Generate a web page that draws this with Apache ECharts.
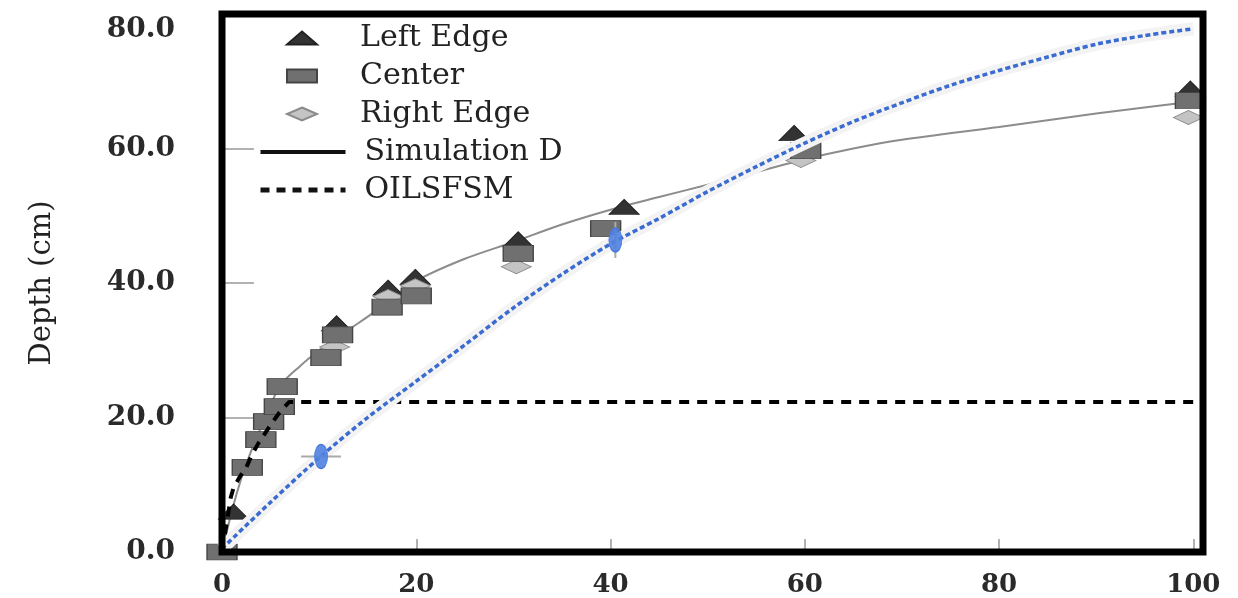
<!DOCTYPE html>
<html><head><meta charset="utf-8">
<script src="https://cdn.jsdelivr.net/npm/echarts@6/dist/echarts.min.js"></script>
<style>html,body{margin:0;padding:0;background:#fff}#c{width:1238px;height:598px}</style>
</head><body><div id="c"></div>
<script>
// ---- data ----
const xTicks = [0, 20, 40, 60, 80, 100];
const yTicks = [0, 20, 40, 60, 80];

const leftEdgeX = [1.2, 11.8, 17.1, 19.9, 30.5, 41.4, 58.9, 99.7];
const leftEdgeY = [6.0, 34.0, 39.3, 40.9, 46.5, 51.3, 62.3, 68.9];

const centerX = [0, 2.6, 4.0, 4.8, 5.9, 6.2, 10.7, 11.9, 17.0, 20.0, 30.5, 39.5, 60.1, 99.7];
const centerY = [0, 12.6, 16.7, 19.4, 21.6, 24.6, 28.9, 32.3, 36.4, 38.1, 44.4, 48.1, 59.7, 67.1];

const rightEdgeX = [11.6, 17.1, 19.9, 30.3, 59.6, 99.5];
const rightEdgeY = [30.5, 38.0, 39.6, 42.4, 58.2, 64.6];

const simX = [0, 1, 2, 3, 4, 5, 6, 8, 10, 13, 16, 20, 25, 30, 35, 40, 45, 50, 55, 60, 65, 70, 80, 90, 100];
const simY = [0, 6, 11, 15, 18.5, 21.8, 24.8, 27.6, 30, 33, 36, 40.3, 43.6, 46.1, 48.7, 50.9, 52.8, 54.6, 56.5, 58.4, 60, 61.3, 63.2, 65.2, 67];

const oilX = [0, 0.5, 0.9, 1.2, 1.8, 2.5, 3.1, 3.8, 4.5, 5.2, 5.9, 6.9, 100];
const oilY = [0, 4.4, 8.1, 9.6, 11.1, 12.6, 14.5, 16.3, 17.8, 19.3, 20.7, 22.3, 22.3];

const blueX = [0, 5, 10, 15, 20, 25, 30, 35, 40, 45, 50, 55, 60, 65, 70, 75, 80, 85, 90, 95, 100];
const blueY = [0.5, 7.4, 14, 20, 25.4, 30.8, 36.3, 41.3, 45.8, 49.6, 53.6, 57.3, 60.8, 64, 66.8, 69.4, 71.6, 73.6, 75.5, 76.8, 77.8];

const blueMarkX = [10.2, 40.5];
const blueMarkY = [14.2, 46.4];

const zip = (xs, ys) => xs.map((x, i) => [x, ys[i]]);
const FONT = 'DejaVu Serif';

const chart = echarts.init(document.getElementById('c'), null, {renderer: 'canvas'});
chart.setOption({
  animation: false,
  backgroundColor: '#fff',
  grid: {left: 222, right: 35, top: 14, bottom: 45, show: true, borderColor: '#000', borderWidth: 7, backgroundColor: 'transparent', z: 10},
  xAxis: {
    type: 'value', min: 0, max: 101, interval: 20,
    axisLine: {show: false},
    splitLine: {show: false},
    axisTick: {inside: true, length: 13, lineStyle: {color: '#999', width: 1.5}},
    axisLabel: {
      fontFamily: FONT, fontSize: 26, fontWeight: 'bold', color: '#2a2a2a', margin: 20,
      formatter: v => xTicks.includes(v) ? String(v) : ''
    }
  },
  yAxis: {
    type: 'value', min: 0, max: 80, interval: 20,
    name: 'Depth (cm)', nameLocation: 'middle', nameRotate: 90, nameGap: 165,
    nameTextStyle: {fontFamily: FONT, fontSize: 29, color: '#222'},
    axisLine: {show: false},
    splitLine: {show: false},
    axisTick: {inside: true, length: 32, lineStyle: {color: '#999', width: 1.5}},
    axisLabel: {
      fontFamily: FONT, fontSize: 28, fontWeight: 'bold', color: '#2a2a2a', margin: 47,
      formatter: v => yTicks.includes(v) ? (v === 80 ? '{top|' + v.toFixed(1) + '}' : v.toFixed(1)) : '',
      rich: {top: {fontFamily: FONT, fontSize: 28, fontWeight: 'bold', color: '#2a2a2a', padding: [32, 0, 0, 0]}}
    }
  },
  legend: [
    {
      orient: 'vertical', left: 281, top: 14, itemGap: 0, itemWidth: 30, itemHeight: 13,
      symbolKeepAspect: false,
      textStyle: {fontFamily: FONT, fontSize: 30, color: '#222', lineHeight: 38, padding: [0, 0, 0, 38]},
      data: [
        {name: 'Left Edge', icon: 'triangle'},
        {name: 'Center', icon: 'rect'},
        {name: 'Right Edge', icon: 'diamond'}
      ]
    },
    {
      orient: 'vertical', left: 253, top: 128, itemGap: 0, itemWidth: 85, itemHeight: 16,
      textStyle: {fontFamily: FONT, fontSize: 30, color: '#222', lineHeight: 38, padding: [0, 0, 0, 14]},
      data: [
        {name: 'Simulation D', itemStyle: {opacity: 0}, lineStyle: {color: '#111', width: 4, type: 'solid'}},
        {name: 'OILSFSM', itemStyle: {opacity: 0}, lineStyle: {color: '#111', width: 5, type: [9, 7]}}
      ]
    }
  ],
  series: [
    {
      name: 'Simulation D', type: 'line', data: zip(simX, simY), symbol: 'none', smooth: 0.3,
      lineStyle: {color: '#8c8c8c', width: 2}, itemStyle: {color: '#8c8c8c'}, z: 2
    },
    {
      name: 'OILSFSM', type: 'line', data: zip(oilX, oilY), symbol: 'none',
      lineStyle: {color: '#000', width: 4, type: [10, 8]}, itemStyle: {color: '#000'}, z: 6
    },
    {
      name: 'Left Edge', type: 'scatter', data: zip(leftEdgeX, leftEdgeY), symbol: 'triangle', symbolSize: [30, 15],
      itemStyle: {color: '#333', borderColor: '#222', borderWidth: 1, opacity: 1}, z: 3
    },
    {
      name: 'Right Edge', type: 'scatter', data: zip(rightEdgeX, rightEdgeY), symbol: 'diamond', symbolSize: [30, 14],
      itemStyle: {color: '#c4c4c4', borderColor: '#8a8a8a', borderWidth: 1, opacity: 1}, z: 4
    },
    {
      name: 'Center', type: 'scatter', data: zip(centerX, centerY), symbol: 'rect', symbolSize: [30, 16],
      itemStyle: {color: '#707070', borderColor: '#444', borderWidth: 1, opacity: 1}, z: 5
    },
    {
      name: 'halo', type: 'line', data: zip(blueX, blueY), symbol: 'none', smooth: 0.3, silent: true,
      lineStyle: {color: '#f3f3f3', width: 13}, z: 7
    },
    {
      name: 'blue', type: 'line', data: zip(blueX, blueY), symbol: 'none', smooth: 0.3,
      lineStyle: {color: '#3a6bd0', width: 3.5, type: [5, 3]}, z: 8
    },
    {
      name: 'blueBar', type: 'scatter', silent: true, z: 8,
      data: [{value: [blueMarkX[0], blueMarkY[0]], symbolSize: [40, 2]}, {value: [blueMarkX[1], blueMarkY[1]], symbolSize: [2, 36]}],
      symbol: 'rect', itemStyle: {color: '#aaa', opacity: 1}
    },
    {
      name: 'blueMark', type: 'scatter', data: zip(blueMarkX, blueMarkY), symbol: 'circle', symbolSize: [13, 24], z: 9,
      itemStyle: {color: 'rgba(80,130,225,0.9)', borderColor: '#4a7ad8', borderWidth: 1, opacity: 1}
    }
  ]
});
</script></body></html>
